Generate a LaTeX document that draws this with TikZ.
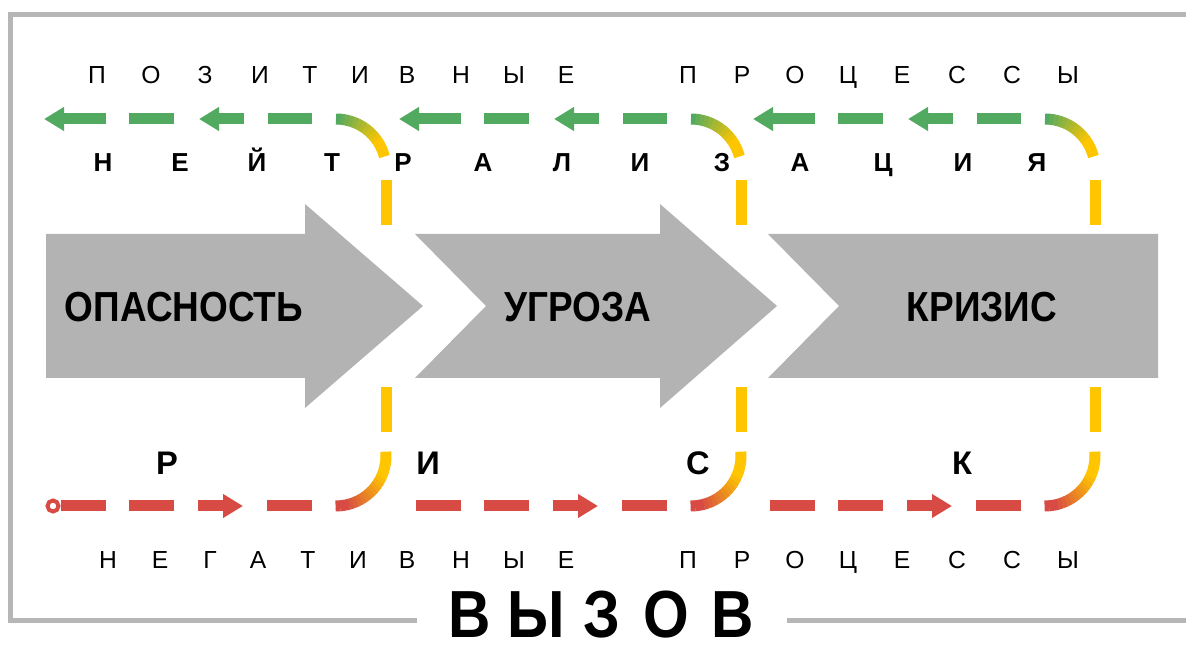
\documentclass[tikz,border=0pt]{standalone}
\usepackage{fontspec}
\setmainfont{Liberation Sans}
\newfontfamily\narrowfont{Liberation Sans}[FakeStretch=0.88]
\usetikzlibrary{arrows.meta}

\definecolor{arrowgray}{RGB}{179,179,179}
\definecolor{framegray}{RGB}{182,182,182}
\definecolor{posgreen}{RGB}{82,170,96}
\definecolor{hingeyellow}{RGB}{255,198,0}
\definecolor{negred}{RGB}{215,75,68}

\tikzset{every picture/.style={line width=0.75pt}}
\tikzset{
  greenbar/.style={draw=posgreen, line width=8.25pt},
  redbar/.style={draw=negred, line width=8.25pt},
  yellowbar/.style={draw=hingeyellow, line width=8.25pt},
  arcbar/.style={line width=8.25pt},
  bartip/.style={-{Triangle[length=15pt,width=17pt]}},
  thinletter/.style={anchor=base, inner sep=0pt, font=\fontsize{18.5}{19}\selectfont},
  neutletter/.style={anchor=base, inner sep=0pt, font=\fontsize{19.5}{20}\selectfont\bfseries},
  riskletter/.style={anchor=base, inner sep=0pt, font=\fontsize{24.5}{25}\selectfont\bfseries},
  callletter/.style={anchor=base, inner sep=0pt, font=\fontsize{50}{52}\selectfont\narrowfont\bfseries},
  arrowlabel/.style={anchor=base, inner sep=0pt, font=\fontsize{31.5}{32}\selectfont\narrowfont\bfseries},
  startring/.style={circle, draw=negred, line width=3pt, fill=white, minimum size=8.25pt, inner sep=0pt}
}

\begin{document}
\begin{tikzpicture}[x=0.75pt,y=0.75pt,yscale=-1,xscale=1]
        \useasboundingbox (0,0) rectangle (1186,648);

        %Frame
        \draw[framegray, line width=3.75pt] (417,620) -- (10.5,620) -- (10.5,14.5) -- (1186,14.5) ;
        \draw[framegray, line width=3.75pt] (787,620) -- (1186,620) ;

        %Shape: Right Arrow [danger]
        \fill[arrowgray] (46,234) -- (305,234) -- (305,204) -- (423,306) -- (305,408) -- (305,378) -- (46,378) -- cycle ;
        %Shape: Chevron Arrow [threat]
        \fill[arrowgray] (415,234) -- (660,234) -- (660,204) -- (777,306) -- (660,408) -- (660,378) -- (415,378) -- (486,306) -- cycle ;
        %Shape: Notched Box [crisis]
        \fill[arrowgray] (768,234) -- (1158,234) -- (1158,378) -- (768,378) -- (839,306) -- cycle ;

        \node[arrowlabel] (danger) at (184,322) {ОПАСНОСТЬ};
        \node[arrowlabel] (threat) at (578,322) {УГРОЗА};
        \node[arrowlabel] (crisis) at (982,322) {КРИЗИС};

        %Dashed loops
        \foreach \v in {386,741,1095}{
          % positive (top)
          \draw[greenbar, bartip] (\v-280,119) -- (\v-342,119) ;
          \draw[greenbar] (\v-257,119) -- (\v-212,119) ;
          \draw[greenbar, bartip] (\v-142,119) -- (\v-187,119) ;
          \draw[greenbar] (\v-118,119) -- (\v-74,119) ;
          % negative (bottom)
          \draw[redbar] (\v-325,506) -- (\v-280,506) ;
          \draw[redbar] (\v-257,506) -- (\v-212,506) ;
          \draw[redbar, bartip] (\v-188,506) -- (\v-143,506) ;
          \draw[redbar] (\v-119,506) -- (\v-74,506) ;
          % turn
          \draw[yellowbar] (\v,180) -- (\v,225) ;
          \draw[yellowbar] (\v,387) -- (\v,432) ;
          \foreach \k in {0,...,14}{
            \pgfmathsetmacro\a{-90+5*\k}
            \pgfmathtruncatemacro\p{max(0,100-\k*100/11)}
            \draw[arcbar, draw=posgreen!\p!hingeyellow] ([shift={(\a:50)}]\v-50,169) arc[start angle=\a, end angle=\a+5.6, radius=50] ;
          }
          \foreach \k in {0,...,18}{
            \pgfmathsetmacro\a{-5+5*\k}
            \pgfmathtruncatemacro\p{max(0,min(100,(\k-5)*100/11))}
            \draw[arcbar, draw=negred!\p!hingeyellow] ([shift={(\a:50)}]\v-50,456) arc[start angle=\a, end angle=\a+5.5, radius=50] ;
          }
        }

        %Start point
        \node[startring] (origin) at (53,506) {};
        \draw[redbar] (origin.east) -- (106,506) ;

        %Letters
        \foreach \x/\ch [count=\i] in {97/П,151/О,205/З,260/И,310/Т,360/И,407/В,461/Н,514/Ы,566/Е,688/П,742/Р,795/О,848/Ц,902/Е,957/С,1012/С,1068/Ы}
          \node[thinletter] (posit-\i) at (\x,84) {\ch};
        \foreach \x/\ch [count=\i] in {103/Н,180/Е,257/Й,332/Т,403/Р,483/А,562/Л,640/И,722/З,800/А,883/Ц,963/И,1037/Я}
          \node[neutletter] (neut-\i) at (\x,172) {\ch};
        \foreach \x/\ch [count=\i] in {167/Р,428/И,698/С,962/К}
          \node[riskletter] (risk-\i) at (\x,475) {\ch};
        \foreach \x/\ch [count=\i] in {108/Н,160/Е,210/Г,258/А,308/Т,358/И,407/В,461/Н,514/Ы,566/Е,688/П,742/Р,795/О,848/Ц,902/Е,957/С,1012/С,1068/Ы}
          \node[thinletter] (negat-\i) at (\x,568) {\ch};
        \foreach \x/\ch [count=\i] in {470/В,536/Ы,602/З,666/О,733/В}
          \node[callletter] (call-\i) at (\x,638) {\ch};

        \end{tikzpicture}
\end{document}
